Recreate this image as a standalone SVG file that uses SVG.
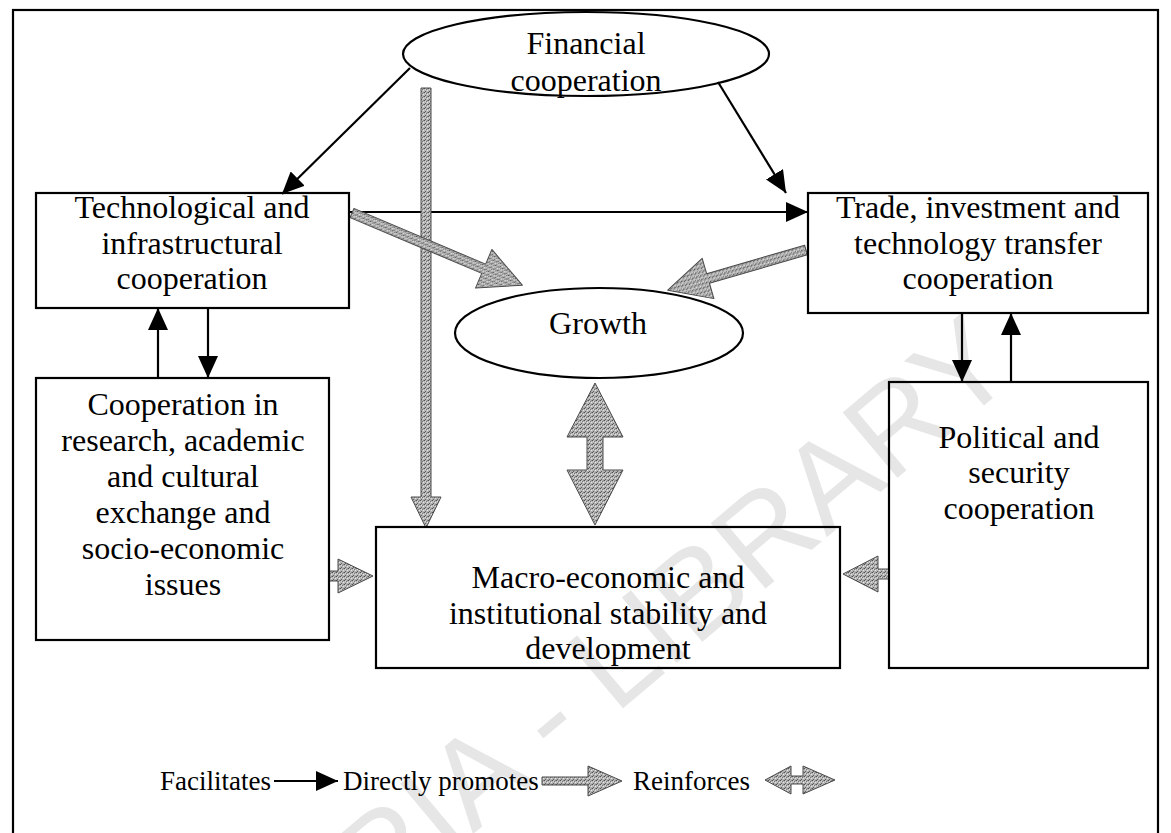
<svg xmlns="http://www.w3.org/2000/svg" width="1171" height="833" viewBox="0 0 1171 833">
  <style>
    .box { fill: none; stroke: #000; stroke-width: 2.2; }
    .lbl { font-family: "Liberation Serif", "Times New Roman", serif; font-size: 32px; fill: #000; text-anchor: middle; }
    .leg { font-family: "Liberation Serif", "Times New Roman", serif; font-size: 27px; fill: #000; }
    .link { fill: none; stroke: #000; stroke-width: 2.2; marker-end: url(#head); }
    .fat { fill: url(#stipple); stroke: #4a4a4a; stroke-width: 1; stroke-linejoin: round; }
    .mark { font-family: "Liberation Sans", Arial, sans-serif; font-size: 124px; fill: #e6e6e6; }
  </style>
  <defs>
    <marker id="head" viewBox="0 0 22 20" refX="22" refY="10" markerWidth="22" markerHeight="20" markerUnits="userSpaceOnUse" orient="auto">
      <path d="M0,0 L22,10 L0,20 z" fill="#000"/>
    </marker>
    <!-- grainy grey fill used for the broad arrows -->
    <pattern id="stipple" width="4" height="4" patternUnits="userSpaceOnUse">
      <rect width="4" height="4" fill="#b4b4b4"/>
      <rect x="0" y="0" width="1" height="1" fill="#505050"/>
      <rect x="2" y="1" width="1" height="1" fill="#777"/>
      <rect x="1" y="3" width="1" height="1" fill="#606060"/>
      <rect x="3" y="2" width="1" height="1" fill="#e4e4e4"/>
      <rect x="1" y="1" width="1" height="1" fill="#d8d8d8"/>
      <rect x="3" y="0" width="1" height="1" fill="#8a8a8a"/>
    </pattern>
  </defs>

  <rect width="1171" height="833" fill="#fff"/>

  <!-- library stamp behind the drawing -->
  <text class="mark" x="1020" y="375" text-anchor="end" transform="rotate(-40 1020 375)">CODESRIA - LIBRARY</text>

  <!-- outer frame -->
  <rect x="13" y="10" width="1145" height="840" class="box" stroke-width="2.6"/>

  <g id="connectors">
    <!-- facilitates (thin black) -->
    <line class="link" x1="410" y1="68" x2="282" y2="194"/>
    <line class="link" x1="718" y1="82" x2="786" y2="193"/>
    <line class="link" x1="349" y1="212" x2="808" y2="212"/>
    <line class="link" x1="158" y1="378" x2="158" y2="308"/>
    <line class="link" x1="208" y1="308" x2="208" y2="378"/>
    <line class="link" x1="962" y1="313" x2="962" y2="382"/>
    <line class="link" x1="1011" y1="382" x2="1011" y2="313"/>

    <!-- directly promotes (broad grey) -->
    <polygon class="fat" points="421,88 431,88 431,497 441,497 426,528 411,497 421,497"/>
    <polygon class="fat" transform="translate(352,213) rotate(22.95)" points="0,-5 143,-5 143,-21 185,0 143,21 143,5 0,5"/>
    <polygon class="fat" transform="translate(806,250) rotate(163.8)" points="0,-5 102,-5 102,-21 144,0 102,21 102,5 0,5"/>
    <polygon class="fat" points="329,571 338,571 338,559 373,576 338,593 338,581 329,581"/>
    <polygon class="fat" points="889,569 878,569 878,556 843,574 878,592 878,579 889,579"/>

    <!-- reinforces (double grey) -->
    <polygon class="fat" points="595,383 623,437 603,437 603,470 623,470 595,525 567,470 587,470 587,437 567,437"/>
  </g>

  <g id="financial">
    <ellipse class="box" cx="586" cy="54" rx="183" ry="42"/>
    <text class="lbl" x="586" y="54">Financial</text>
    <text class="lbl" x="586" y="91">cooperation</text>
  </g>

  <g id="technological">
    <rect class="box" x="36" y="193" width="313" height="115"/>
    <text class="lbl" x="192" y="218">Technological and</text>
    <text class="lbl" x="192" y="254">infrastructural</text>
    <text class="lbl" x="192" y="289">cooperation</text>
  </g>

  <g id="trade">
    <rect class="box" x="808" y="193" width="340" height="120"/>
    <text class="lbl" x="978" y="218">Trade, investment and</text>
    <text class="lbl" x="978" y="254">technology transfer</text>
    <text class="lbl" x="978" y="289">cooperation</text>
  </g>

  <g id="growth">
    <ellipse class="box" cx="599" cy="333" rx="144" ry="45"/>
    <text class="lbl" x="598" y="334">Growth</text>
  </g>

  <g id="research">
    <rect class="box" x="36" y="378" width="293" height="262"/>
    <text class="lbl" x="183" y="415">Cooperation in</text>
    <text class="lbl" x="183" y="451">research, academic</text>
    <text class="lbl" x="183" y="487">and cultural</text>
    <text class="lbl" x="183" y="523">exchange and</text>
    <text class="lbl" x="183" y="559">socio-economic</text>
    <text class="lbl" x="183" y="595">issues</text>
  </g>

  <g id="macro">
    <rect class="box" x="376" y="527" width="464" height="141"/>
    <text class="lbl" x="608" y="588">Macro-economic and</text>
    <text class="lbl" x="608" y="624">institutional stability and</text>
    <text class="lbl" x="608" y="659">development</text>
  </g>

  <g id="political">
    <rect class="box" x="889" y="382" width="259" height="286"/>
    <text class="lbl" x="1019" y="448">Political and</text>
    <text class="lbl" x="1019" y="483">security</text>
    <text class="lbl" x="1019" y="519">cooperation</text>
  </g>

  <g id="legend">
    <text class="leg" x="160" y="790">Facilitates</text>
    <line class="link" x1="274" y1="781" x2="338" y2="781"/>
    <text class="leg" x="343" y="790">Directly promotes</text>
    <polygon class="fat" points="542,777 588,777 588,766 622,781 588,796 588,785 542,785"/>
    <text class="leg" x="633" y="790">Reinforces</text>
    <polygon class="fat" points="765,780 791,766 791,776 803,776 803,766 835,780 803,794 803,784 791,784 791,794"/>
  </g>
</svg>
